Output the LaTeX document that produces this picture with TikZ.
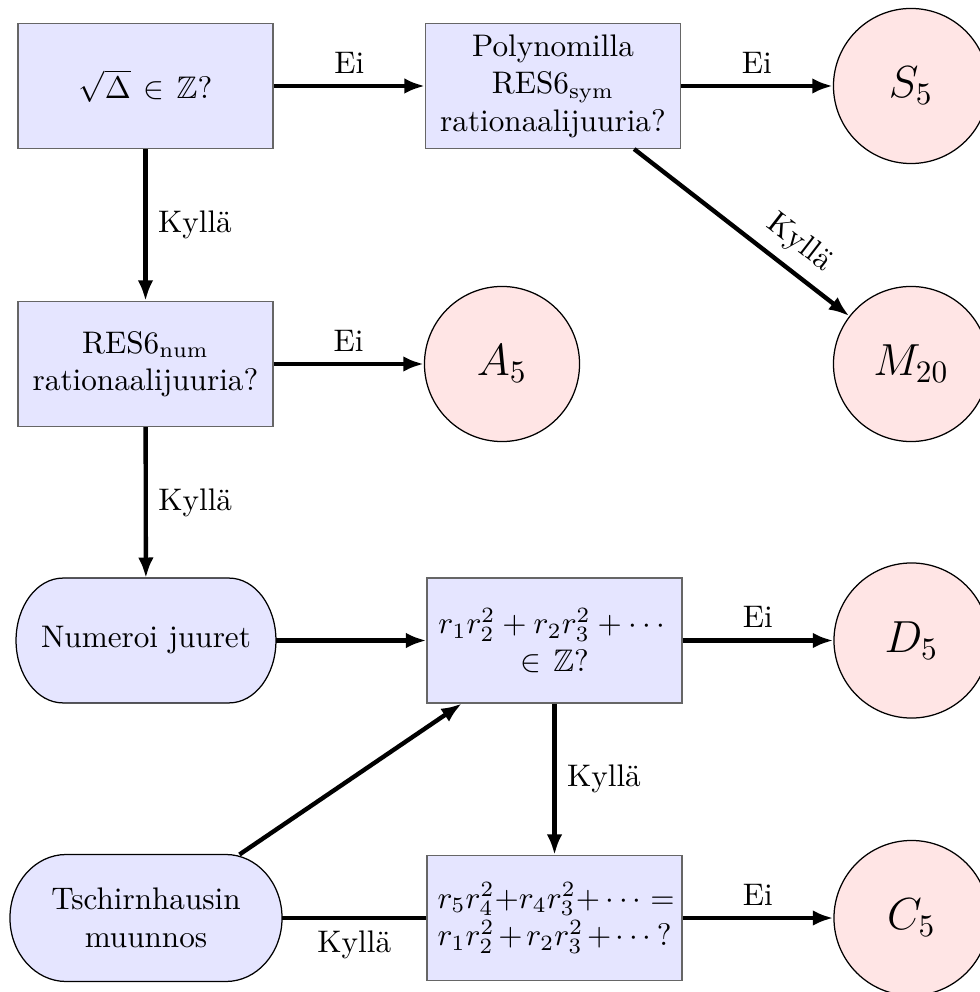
\documentclass[tikz,border=0pt]{standalone}
\usepackage{amsmath,amssymb}
\usepackage{fontspec}
\usetikzlibrary{arrows.meta,positioning}
\pgfdeclarelayer{background}
\pgfsetlayers{background,main}
\begin{document}
\begin{tikzpicture}[x=0.3205pt,y=0.3205pt,
 decision/.style={rectangle, draw=black!60, fill=blue!10, text width=75pt, inner sep=3.33pt, minimum height=40pt, align=center},
 stadium/.style={rectangle, minimum height=40pt, align=center, inner sep=3.33pt, outer sep=0pt},
 stadiumline/.style={draw=black, fill=blue!10},
 result/.style={circle, draw=black, fill=red!10, minimum size=49.7pt, inner sep=0pt, font=\Large},
 conn/.style={-{Latex[length=6.6pt,width=5pt]}, line width=1.4pt},
 plainline/.style={line width=1.4pt}
]
\useasboundingbox (0,0) rectangle (979,-992);

\node[decision] (q1) at (145.5,-86) {$\sqrt{\Delta}$\hspace{0.7pt} $\in$\hspace{0.7pt} $\mathbb{Z}$?};
\node[decision] (poly) at (553,-86) {Polynomilla\\RES6$_{\mathrm{sym}}$\\rationaalijuuria?};
\node[result] (S5) at (911,-86) {$S_5$};
\node[decision] (res) at (145.5,-364) {RES6$_{\mathrm{num}}$\\rationaalijuuria?};
\node[result] (A5) at (502,-364) {$A_5$};
\node[result] (M20) at (911,-364) {$M_{20}$};
\node[stadium, minimum width=83.3pt] (num) at (146,-640.5) {Numeroi juuret};
\node[decision] (sum) at (554.5,-640.5) {$r_1r_2^2+r_2r_3^2+\cdots$\\ $\in$\hspace{0.7pt} $\mathbb{Z}$?};
\node[result] (D5) at (911.5,-640.5) {$D_5$};
\node[stadium, minimum width=87.2pt, minimum height=40.7pt] (tsch) at (146,-918) {Tschirnhausin\\muunnos};
\node[decision] (eq) at (554.5,-918) {$r_5r_4^2{+}r_4r_3^2{+}\cdots=$\\$r_1r_2^2+r_2r_3^2+\cdots$?};
\node[result] (C5) at (911.5,-918) {$C_5$};

\begin{pgfonlayer}{background}
\draw[stadiumline] ([xshift=15pt]num.north west) -- ([xshift=-15pt]num.north east)
  arc[start angle=90, end angle=-90, x radius=15pt, y radius=20pt]
  -- ([xshift=15pt]num.south west)
  arc[start angle=270, end angle=90, x radius=15pt, y radius=20pt] -- cycle;
\draw[stadiumline] ([xshift=18pt]tsch.north west) -- ([xshift=-18pt]tsch.north east)
  arc[start angle=90, end angle=-90, x radius=18pt, y radius=20.35pt]
  -- ([xshift=18pt]tsch.south west)
  arc[start angle=270, end angle=90, x radius=18pt, y radius=20.35pt] -- cycle;
\end{pgfonlayer}

\draw[conn] (q1) -- node[above]{Ei} (poly);
\draw[conn] (poly) -- node[above]{Ei} (S5);
\draw[conn] (q1) -- node[right]{Kyllä} (res);
\draw[conn] (poly) -- node[above, sloped, pos=0.69]{Kyllä} (M20);
\draw[conn] (res) -- node[above]{Ei} (A5);
\draw[conn] (res) -- node[right]{Kyllä} (num);
\draw[conn] (num) -- (sum);
\draw[conn] (sum) -- node[above]{Ei} (D5);
\draw[conn] (sum) -- node[right]{Kyllä} (eq);
\draw[conn] (tsch) -- (sum);
\draw[plainline] (tsch) -- node[below]{Kyllä} (eq);
\draw[conn] (eq) -- node[above]{Ei} (C5);
\end{tikzpicture}
\end{document}
